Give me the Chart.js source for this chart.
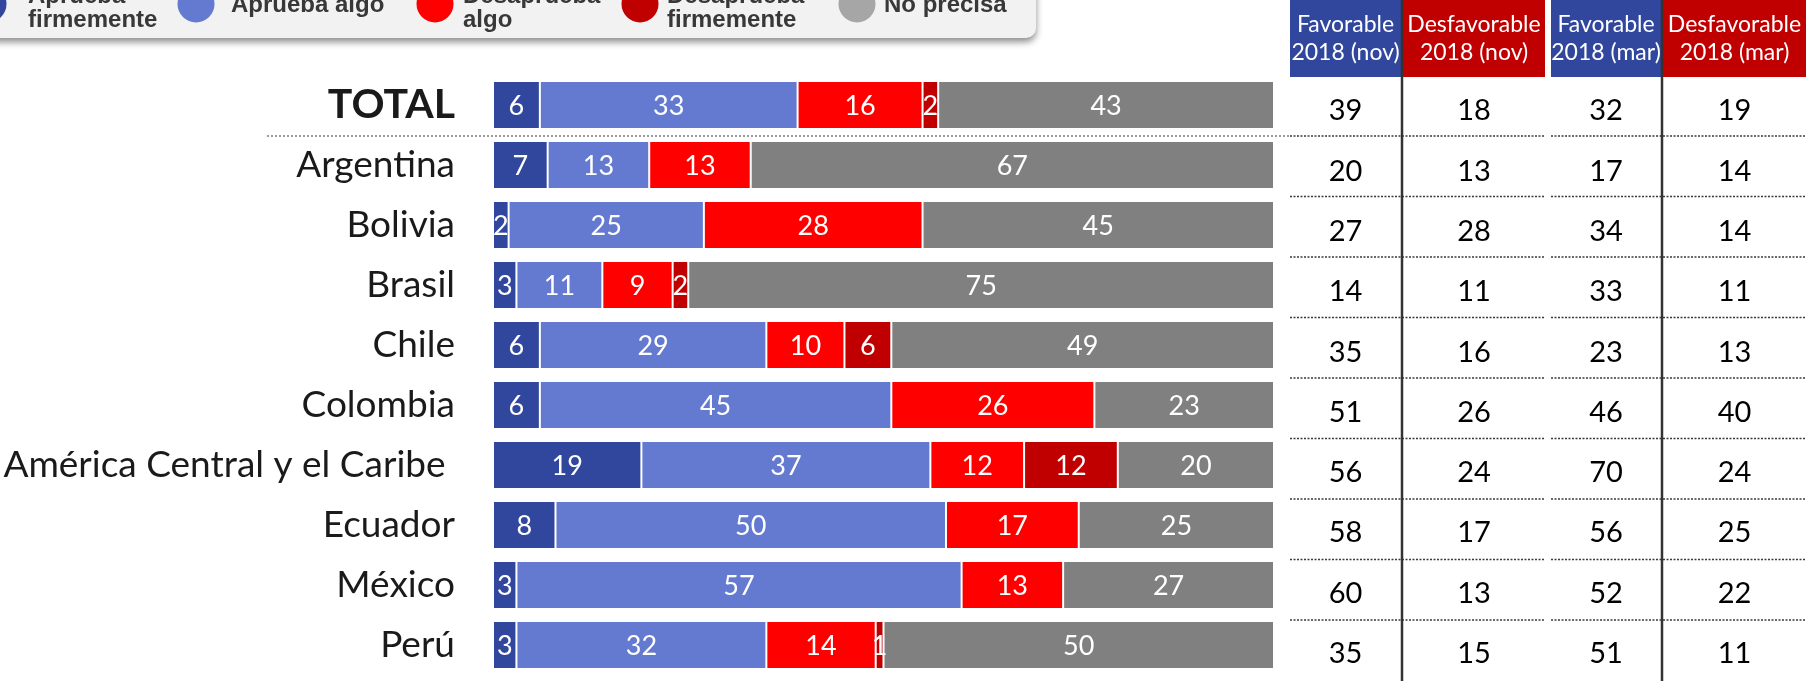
<!DOCTYPE html>
<html>
<head>
<meta charset="utf-8">
<script src="https://cdn.jsdelivr.net/npm/chart.js@4.4.1/dist/chart.umd.min.js"></script>
<style>
  html, body { margin: 0; padding: 0; background: #ffffff; overflow: hidden; }
  #wrap { width: 1806px; height: 681px; position: relative; }
</style>
</head>
<body>
<div id="wrap"><canvas id="c"></canvas></div>
<script>
// ---------------- DATA ----------------
const categories = ['TOTAL', 'Argentina', 'Bolivia', 'Brasil', 'Chile', 'Colombia',
  'América Central y el Caribe ', 'Ecuador', 'México', 'Perú'];

const seriesNames = ['Aprueba firmemente', 'Aprueba algo', 'Desaprueba algo', 'Desaprueba firmemente', 'No precisa'];
const seriesLegendLines = [['Aprueba', 'firmemente'], ['Aprueba algo'], ['Desaprueba', 'algo'], ['Desaprueba', 'firmemente'], ['No precisa']];

const apruebaFirme    = [6, 7, 2, 3, 6, 6, 19, 8, 3, 3];
const apruebaAlgo     = [33, 13, 25, 11, 29, 45, 37, 50, 57, 32];
const desapruebaAlgo  = [16, 13, 28, 9, 10, 26, 12, 17, 13, 14];
const desapruebaFirme = [2, 0, 0, 2, 6, 0, 12, 0, 0, 1];
const noPrecisa       = [43, 67, 45, 75, 49, 23, 20, 25, 27, 50];

const tableHeaders = [['Favorable', '2018 (nov)'], ['Desfavorable', '2018 (nov)'], ['Favorable', '2018 (mar)'], ['Desfavorable', '2018 (mar)']];
const favNov  = [39, 20, 27, 14, 35, 51, 56, 58, 60, 35];
const desfNov = [18, 13, 28, 11, 16, 26, 24, 17, 13, 15];
const favMar  = [32, 17, 34, 33, 23, 46, 70, 56, 52, 51];
const desfMar = [19, 14, 14, 11, 13, 40, 24, 25, 22, 11];

// ---------------- STYLE ----------------
const barColors = ['#31479E', '#647AD0', '#FF0000', '#C00000', '#808080'];
const legendColors = ['#31479E', '#647AD0', '#FF0000', '#C00000', '#A6A6A6'];
const headerColors = ['#31479E', '#C00000', '#31479E', '#C00000'];
const tableCols = [[1290, 1401], [1403, 1545], [1551, 1661], [1663, 1806]];
const tableSeries = [favNov, desfNov, favMar, desfMar];
const seriesData = [apruebaFirme, apruebaAlgo, desapruebaAlgo, desapruebaFirme, noPrecisa];

const datasets = seriesNames.map((name, i) => ({
  label: name,
  data: seriesData[i],
  backgroundColor: barColors[i],
  borderColor: 'rgba(255,255,255,0.95)',
  borderWidth: 1,
  borderSkipped: false,
  barPercentage: 0.8,
  categoryPercentage: 1.0
}));

const overlayPlugin = {
  id: 'overlay',
  afterDatasetsDraw(chart) {
    const ctx = chart.ctx;
    ctx.save();
    ctx.font = '27px Lato';
    ctx.fillStyle = '#ffffff';
    ctx.textAlign = 'center';
    ctx.textBaseline = 'middle';
    chart.data.datasets.forEach((ds, di) => {
      const meta = chart.getDatasetMeta(di);
      meta.data.forEach((el, i) => {
        const v = ds.data[i];
        if (!v) return;
        const cx = (el.x + el.base) / 2;
        ctx.fillText(String(v), cx, el.y + 1);
      });
    });
    ctx.restore();
  },
  afterDraw(chart) {
    const ctx = chart.ctx;
    const y = chart.scales.y;
    const px = (i) => y.getPixelForValue(i);
    ctx.save();

    // dotted separator under TOTAL across the bar area
    const sepY = (px(0) + px(1)) / 2 + 1;
    ctx.strokeStyle = '#9a9a9a';
    ctx.lineWidth = 2;
    ctx.setLineDash([2, 2]);
    ctx.beginPath();
    ctx.moveTo(267, sepY);
    ctx.lineTo(1290, sepY);
    ctx.stroke();

    // table dotted row separators
    ctx.strokeStyle = '#3a3a3a';
    ctx.lineWidth = 1.5;
    ctx.setLineDash([2, 1.5]);
    for (let i = 0; i < categories.length - 1; i++) {
      const ly = px(i) + 31 + i * 0.5;
      ctx.beginPath();
      ctx.moveTo(1290, ly); ctx.lineTo(1545, ly);
      ctx.moveTo(1551, ly); ctx.lineTo(1806, ly);
      ctx.stroke();
    }
    ctx.setLineDash([]);

    // table headers
    tableHeaders.forEach((lines, c) => {
      const [x0, x1] = tableCols[c];
      ctx.fillStyle = headerColors[c];
      ctx.fillRect(x0, 0, x1 - x0, 77);
      ctx.fillStyle = '#ffffff';
      ctx.font = '23px Lato';
      ctx.textAlign = 'center';
      ctx.textBaseline = 'middle';
      ctx.fillText(lines[0], (x0 + x1) / 2, 25);
      ctx.fillText(lines[1], (x0 + x1) / 2, 53);
    });

    // vertical lines
    ctx.strokeStyle = '#333333';
    ctx.lineWidth = 2.5;
    [1402, 1662].forEach(x => {
      ctx.beginPath(); ctx.moveTo(x, 0); ctx.lineTo(x, 681); ctx.stroke();
    });

    // table numbers
    ctx.fillStyle = '#000000';
    ctx.font = '29px Lato';
    ctx.textAlign = 'center';
    ctx.textBaseline = 'middle';
    tableSeries.forEach((arr, c) => {
      const [x0, x1] = tableCols[c];
      arr.forEach((v, i) => {
        ctx.fillText(String(v), (x0 + x1) / 2, px(i) + 6 + i * 0.3);
      });
    });

    // legend box
    ctx.save();
    ctx.shadowColor = 'rgba(0,0,0,0.45)';
    ctx.shadowBlur = 7;
    ctx.shadowOffsetY = 4;
    ctx.fillStyle = '#F2F2F2';
    ctx.beginPath();
    ctx.roundRect(-20, -30, 1056, 68, 10);
    ctx.fill();
    ctx.restore();

    const circleX = [-12, 196, 435, 640, 857];
    const textX = [28, 231, 463, 667, 884];
    seriesLegendLines.forEach((lines, i) => {
      ctx.fillStyle = legendColors[i];
      ctx.beginPath();
      ctx.arc(circleX[i], 4, 18.5, 0, Math.PI * 2);
      ctx.fill();
      ctx.fillStyle = '#383838';
      ctx.font = 'bold 24px "Liberation Sans", Arial, sans-serif';
      ctx.textAlign = 'left';
      ctx.textBaseline = 'alphabetic';
      if (lines.length === 2) {
        ctx.fillText(lines[0], textX[i], 3);
        ctx.fillText(lines[1], textX[i], 27);
      } else {
        ctx.fillText(lines[0], textX[i], 12);
      }
    });
    ctx.restore();
  }
};

new Chart(document.getElementById('c'), {
  type: 'bar',
  data: { labels: categories, datasets },
  options: {
    indexAxis: 'y',
    responsive: true,
    maintainAspectRatio: false,
    animation: false,
    layout: { padding: { top: 75, bottom: 6, left: 0, right: 532 } },
    plugins: { legend: { display: false }, tooltip: { enabled: false } },
    scales: {
      x: { stacked: true, min: 0, max: 100, display: false },
      y: {
        stacked: true,
        grid: { display: false, drawTicks: false },
        border: { display: false },
        afterFit(scale) {
          scale.width = 493;
          scale.paddingTop = 0;
          scale.paddingBottom = 0;
        },
        ticks: {
          autoSkip: false,
          padding: 38,
          color: '#1a1a1a',
          font: (ctx) => ctx.index === 0
            ? { family: 'Lato', size: 41, weight: 'bold' }
            : { family: 'Lato', size: 37 }
        }
      }
    }
  },
  plugins: [overlayPlugin]
});
</script>
</body>
</html>
